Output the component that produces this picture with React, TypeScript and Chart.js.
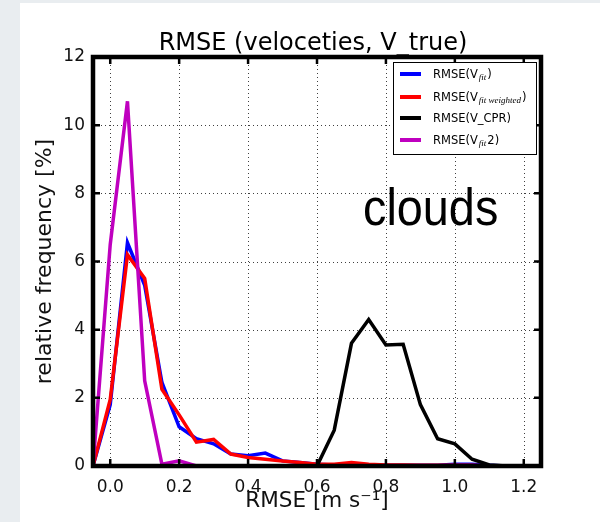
import React, { useEffect, useRef } from 'react';
import { Chart, registerables } from 'chart.js';

Chart.register(...registerables);

// ---------- data ----------
const RMSE_BINS = [
  -0.05, 0.0, 0.05, 0.1, 0.15, 0.2, 0.25, 0.3, 0.35, 0.4, 0.45, 0.5, 0.55, 0.6,
  0.65, 0.7, 0.75, 0.8, 0.85, 0.9, 0.95, 1.0, 1.05, 1.1, 1.15, 1.2, 1.25,
];
const V_FIT = [
  0, 1.8, 6.55, 5.3, 2.45, 1.15, 0.8, 0.65, 0.35, 0.3, 0.38, 0.15, 0.1, 0.05,
  0.03, 0.05, 0.03, 0.02, 0.02, 0.02, 0.02, 0.05, 0.05, 0.02, 0, 0, 0,
];
const V_FIT_WEIGHTED = [
  0, 1.95, 6.2, 5.5, 2.25, 1.5, 0.7, 0.78, 0.35, 0.25, 0.2, 0.15, 0.1, 0.05,
  0.05, 0.1, 0.05, 0.03, 0.03, 0.02, 0.02, 0.02, 0.02, 0, 0, 0, 0,
];
const V_CPR = [
  0, 0, 0, 0, 0, 0, 0, 0, 0, 0, 0, 0, 0, 0,
  1.05, 3.6, 4.3, 3.55, 3.57, 1.8, 0.8, 0.65, 0.2, 0.03, 0, 0, 0,
];
const V_FIT2 = [
  0, 6.5, 10.7, 2.5, 0.05, 0.15, 0, 0, 0, 0, 0, 0, 0, 0,
  0, 0, 0, 0, 0, 0, 0, 0, 0, 0, 0, 0, 0,
];
const X_TICKS = [0.0, 0.2, 0.4, 0.6, 0.8, 1.0, 1.2];
const X_TICK_LABELS = ['0.0', '0.2', '0.4', '0.6', '0.8', '1.0', '1.2'];
const Y_TICKS = [0, 2, 4, 6, 8, 10, 12];
const X_MIN = -0.05;
const X_MAX = 1.25;
const Y_MIN = 0;
const Y_MAX = 12;

const TITLE = 'RMSE (veloceties, V_true)';
const X_LABEL = 'RMSE [m s⁻¹]';
const Y_LABEL = 'relative frequency [%]';
const ANNOTATION = 'clouds';
const SERIES_LABELS = ['RMSE(V_fit)', 'RMSE(V_fit weighted)', 'RMSE(V_CPR)', 'RMSE(V_fit2)'];
const SERIES_COLORS = ['#0000ff', '#ff0000', '#000000', '#bf00bf'];
const LEGEND_PARTS: { t: string; sub?: boolean }[][] = [
  [{ t: 'RMSE(V' }, { t: 'fit', sub: true }, { t: ')' }],
  [{ t: 'RMSE(V' }, { t: 'fit weighted', sub: true }, { t: ')' }],
  [{ t: 'RMSE(V_CPR)' }],
  [{ t: 'RMSE(V' }, { t: 'fit', sub: true }, { t: '2)' }],
];

const SANS = '"DejaVu Sans", sans-serif';

const bgPlugin = {
  id: 'bgPlugin',
  beforeDraw(chart: any) {
    const { ctx, width, height } = chart;
    ctx.save();
    ctx.fillStyle = '#ffffff';
    ctx.fillRect(0, 0, width, height);
    ctx.fillStyle = '#e9edf0';
    ctx.fillRect(0, 0, 20, height);
    ctx.fillRect(0, 0, width, 3);
    ctx.restore();
  },
};

const gridPlugin = {
  id: 'gridPlugin',
  beforeDatasetsDraw(chart: any) {
    const { ctx, chartArea: a, scales } = chart;
    ctx.save();
    ctx.strokeStyle = 'rgba(0,0,0,0.75)';
    ctx.lineWidth = 1;
    ctx.setLineDash([1, 3]);
    X_TICKS.forEach((v) => {
      const px = Math.round(scales.x.getPixelForValue(v)) + 0.5;
      ctx.beginPath();
      ctx.moveTo(px, a.top);
      ctx.lineTo(px, a.bottom);
      ctx.stroke();
    });
    Y_TICKS.forEach((v) => {
      if (v === Y_MIN || v === Y_MAX) return;
      const py = Math.round(scales.y.getPixelForValue(v)) + 0.5;
      ctx.beginPath();
      ctx.moveTo(a.left, py);
      ctx.lineTo(a.right, py);
      ctx.stroke();
    });
    ctx.restore();
  },
};

const framePlugin = {
  id: 'framePlugin',
  afterDatasetsDraw(chart: any) {
    const { ctx, chartArea: a, scales } = chart;
    ctx.save();
    // inward ticks
    ctx.strokeStyle = '#000';
    ctx.lineWidth = 2.5;
    const tl = 7;
    X_TICKS.forEach((v) => {
      const px = scales.x.getPixelForValue(v);
      ctx.beginPath();
      ctx.moveTo(px, a.bottom);
      ctx.lineTo(px, a.bottom - tl);
      ctx.moveTo(px, a.top);
      ctx.lineTo(px, a.top + tl);
      ctx.stroke();
    });
    Y_TICKS.forEach((v) => {
      const py = scales.y.getPixelForValue(v);
      ctx.beginPath();
      ctx.moveTo(a.left, py);
      ctx.lineTo(a.left + tl, py);
      ctx.moveTo(a.right, py);
      ctx.lineTo(a.right - tl, py);
      ctx.stroke();
    });
    // spines
    ctx.lineWidth = 4.5;
    ctx.strokeRect(a.left, a.top, a.right - a.left, a.bottom - a.top);

    // x tick labels
    ctx.fillStyle = '#111';
    ctx.font = `17px ${SANS}`;
    ctx.textAlign = 'center';
    ctx.textBaseline = 'alphabetic';
    X_TICKS.forEach((v, i) => {
      ctx.fillText(X_TICK_LABELS[i], scales.x.getPixelForValue(v), 492);
    });

    // title
    ctx.fillStyle = '#000';
    ctx.font = `24px ${SANS}`;
    ctx.textAlign = 'center';
    ctx.textBaseline = 'alphabetic';
    ctx.fillText(TITLE, (a.left + a.right) / 2 - 4, 50);

    // annotation
    ctx.save();
    ctx.font = '52px "Liberation Sans", Arial, sans-serif';
    ctx.textAlign = 'left';
    ctx.translate(363, 225);
    ctx.scale(0.9, 1);
    ctx.fillText(ANNOTATION, 0, 0);
    ctx.restore();

    // legend
    const bx = 393, by = 62, bw = 143, bh = 92;
    ctx.fillStyle = '#fff';
    ctx.fillRect(bx, by, bw, bh);
    ctx.lineWidth = 1;
    ctx.strokeStyle = '#000';
    ctx.strokeRect(bx + 0.5, by + 0.5, bw, bh);
    const rows = [74, 97, 118, 140];
    rows.forEach((ry, i) => {
      ctx.strokeStyle = SERIES_COLORS[i];
      ctx.lineWidth = 4;
      ctx.beginPath();
      ctx.moveTo(400, ry);
      ctx.lineTo(421, ry);
      ctx.stroke();
      let x = 433;
      ctx.fillStyle = '#000';
      ctx.textAlign = 'left';
      ctx.textBaseline = 'alphabetic';
      LEGEND_PARTS[i].forEach((p) => {
        if (p.sub) {
          ctx.font = 'italic 9px "Liberation Serif", "DejaVu Serif", serif';
          ctx.fillText(p.t, x + 1, ry + 6);
          x += ctx.measureText(p.t).width + 2;
        } else {
          ctx.font = `11.5px ${SANS}`;
          ctx.fillText(p.t, x, ry + 4);
          x += ctx.measureText(p.t).width;
        }
      });
    });
    ctx.restore();
  },
};

export default function App() {
  const canvasRef = useRef<HTMLCanvasElement | null>(null);

  useEffect(() => {
    const canvas = canvasRef.current;
    if (!canvas) return;
    const series = [V_FIT, V_FIT_WEIGHTED, V_CPR, V_FIT2];
    const orders = [3, 2, 1, 0];
    const chart = new Chart(canvas, {
      type: 'line',
      data: {
        datasets: series.map((vals, i) => ({
          label: SERIES_LABELS[i],
          data: RMSE_BINS.map((x, j) => ({ x, y: vals[j] })),
          borderColor: SERIES_COLORS[i],
          backgroundColor: SERIES_COLORS[i],
          borderWidth: 3.5,
          pointRadius: 0,
          tension: 0,
          fill: false,
          order: orders[i],
        })),
      },
      options: {
        animation: false,
        responsive: false,
        devicePixelRatio: 1,
        parsing: false as any,
        layout: { padding: { top: 57, right: 59, left: 0, bottom: 0 } },
        plugins: {
          legend: { display: false },
          title: { display: false },
          tooltip: { enabled: false },
        },
        scales: {
          x: {
            type: 'linear',
            min: X_MIN,
            max: X_MAX,
            afterBuildTicks: (s: any) => {
              s.ticks = X_TICKS.map((v) => ({ value: v }));
            },
            afterFit: (s: any) => {
              s.height = 56;
            },
            grid: { display: false, drawTicks: false },
            border: { display: false },
            ticks: { display: false },
            title: {
              display: true,
              text: X_LABEL,
              color: '#111',
              font: { size: 21.5, family: SANS },
              padding: { top: 0, bottom: 8 },
            },
          },
          y: {
            type: 'linear',
            min: Y_MIN,
            max: Y_MAX,
            afterBuildTicks: (s: any) => {
              s.ticks = Y_TICKS.map((v) => ({ value: v }));
            },
            afterFit: (s: any) => {
              s.width = 93;
            },
            grid: { display: false, drawTicks: false },
            border: { display: false },
            ticks: {
              padding: 8,
              color: '#111',
              font: { size: 17, family: SANS },
              callback: (v: any) => String(v),
            },
            title: {
              display: true,
              text: Y_LABEL,
              color: '#111',
              font: { size: 22, family: SANS },
              padding: { top: 32, bottom: 0 },
            },
          },
        },
      },
      plugins: [bgPlugin, gridPlugin, framePlugin],
    } as any);
    return () => chart.destroy();
  }, []);

  return (
    <div style={{ position: 'absolute', left: 0, top: 0, width: 600, height: 522 }}>
      <canvas ref={canvasRef} width={600} height={522} style={{ display: 'block' }} />
    </div>
  );
}
